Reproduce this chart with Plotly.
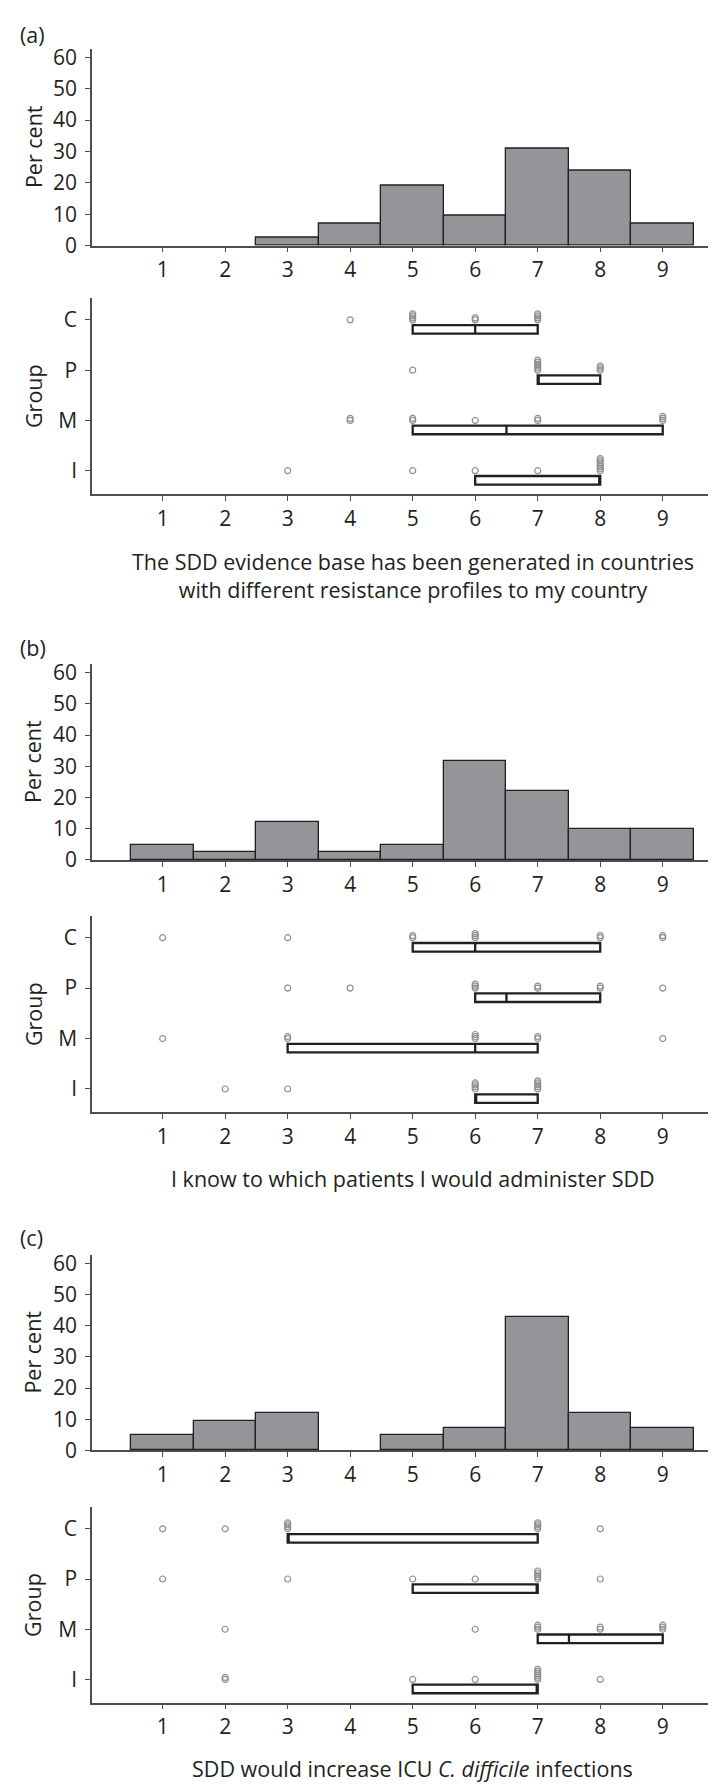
import plotly.graph_objects as go

SCORES = [1, 2, 3, 4, 5, 6, 7, 8, 9]
GROUPS = ["C", "P", "M", "I"]
PCT_TICKS = [0, 10, 20, 30, 40, 50, 60]

# (a) per cent of responses per score
A_PCT = [0, 0, 2.4, 7.1, 19.0, 9.5, 31.0, 23.8, 7.1]
# responses per score for each group (C, P, M, I)
A_DOTS = [
    [0, 0, 0, 1, 4, 2, 4, 0, 0],
    [0, 0, 0, 0, 1, 0, 6, 3, 0],
    [0, 0, 0, 2, 2, 1, 2, 0, 3],
    [0, 0, 1, 0, 1, 1, 1, 7, 0],
]
A_Q1 = [5, 7, 5, 6]
A_MED = [6, 7, 6.5, 8]
A_Q3 = [7, 8, 9, 8]

# (b)
B_PCT = [4.9, 2.4, 12.2, 2.4, 4.9, 31.7, 22.0, 9.8, 9.8]
B_DOTS = [
    [1, 0, 1, 0, 2, 3, 0, 2, 2],
    [0, 0, 1, 1, 0, 3, 2, 2, 1],
    [1, 0, 2, 0, 0, 3, 2, 0, 1],
    [0, 1, 1, 0, 0, 4, 5, 0, 0],
]
B_Q1 = [5, 6, 3, 6]
B_MED = [6, 6.5, 6, 6]
B_Q3 = [8, 8, 7, 7]

# (c)
C_PCT = [4.8, 9.5, 11.9, 0, 4.8, 7.1, 42.9, 11.9, 7.1]
C_DOTS = [
    [1, 1, 4, 0, 0, 0, 4, 1, 0],
    [1, 0, 1, 0, 1, 1, 5, 1, 0],
    [0, 1, 0, 0, 0, 1, 3, 2, 3],
    [0, 2, 0, 0, 1, 1, 6, 1, 0],
]
C_Q1 = [3, 5, 7, 5]
C_MED = [3, 7, 7.5, 7]
C_Q3 = [7, 7, 9, 7]

CAPTIONS = [
    "The SDD evidence base has been generated in countries<br>"
    "with different resistance profiles to my country",
    "I know to which patients I would administer SDD",
    "SDD would increase ICU <i>C. difficile</i> infections",
]

W, H = 716, 1785
LEFT = 84
INK = "#231f20"
AXIS = "#4d4d4d"
BAR_FILL = "#939598"
DOT = "#8c8e90"
FONT = "Open Sans"
FS_TICK = 21
FS_TEXT = 21.5

GROUP_POS = [3, 2, 1, 0]
BOX_SHIFT = 0.19   # boxes sit just below the group line
STACK_STEP = 0.04  # repeated answers stack upwards

# pixel layout (top, bottom) of each panel
LAYOUT_PX = [
    dict(tag_y=21, hist=(35, 234), box=(287.3, 485), cap=567.5),
    dict(tag_y=640, hist=(657, 855), box=(911.7, 1110), cap=1176.7),
    dict(tag_y=1236.7, hist=(1254.3, 1451.7), box=(1509.3, 1706.7), cap=1773.3),
]
DATA = [
    ("(a)", A_PCT, A_DOTS, A_Q1, A_MED, A_Q3),
    ("(b)", B_PCT, B_DOTS, B_Q1, B_MED, B_Q3),
    ("(c)", C_PCT, C_DOTS, C_Q1, C_MED, C_Q3),
]


def py(px):
    return 1 - px / H


def px_x(px):
    return (px - LEFT) / (W - LEFT)


def _xaxis(anchor):
    return dict(
        domain=[0, 1], range=[-0.13, 9.98], anchor=anchor,
        tickvals=SCORES, ticks="outside", ticklen=5, tickwidth=1.2,
        tickcolor=AXIS, showline=True, linecolor=AXIS, linewidth=1.5,
        showgrid=False, zeroline=False, fixedrange=True,
        tickfont=dict(family=FONT, size=FS_TICK, color=INK),
    )


def _yaxis(anchor, top, bottom, **kw):
    return dict(
        domain=[py(bottom), py(top)], anchor=anchor,
        ticks="outside", ticklen=5, tickwidth=1.2, tickcolor=AXIS,
        showline=True, linecolor=AXIS, linewidth=1.5,
        showgrid=False, zeroline=False, fixedrange=True, ticklabelstandoff=4,
        tickfont=dict(family=FONT, size=FS_TICK, color=INK), **kw,
    )


fig = go.Figure()
annotations = []
layout_axes = {}

for i, ((tag, pct, dots, q1, med, q3), geo) in enumerate(zip(DATA, LAYOUT_PX)):
    hx, hy = f"x{2 * i + 1}", f"y{2 * i + 1}"
    bx, by = f"x{2 * i + 2}", f"y{2 * i + 2}"

    fig.add_trace(go.Bar(
        x=SCORES, y=[v if v > 0 else None for v in pct], width=1,
        marker=dict(color=BAR_FILL, line=dict(color=INK, width=1.3)),
        xaxis=hx, yaxis=hy, showlegend=False,
    ))

    xs, ys = [], []
    for pos, row in zip(GROUP_POS, dots):
        for score, n in zip(SCORES, row):
            for k in range(n):
                xs.append(score)
                ys.append(pos + k * STACK_STEP)
    fig.add_trace(go.Scatter(
        x=xs, y=ys, mode="markers",
        marker=dict(symbol="circle-open", size=6, color=DOT, line=dict(width=1.2)),
        xaxis=bx, yaxis=by, showlegend=False,
    ))

    fig.add_trace(go.Box(
        y=[p - BOX_SHIFT for p in GROUP_POS], q1=q1, median=med, q3=q3,
        lowerfence=q1, upperfence=q3, orientation="h", width=0.17,
        whiskerwidth=0, boxpoints=False, fillcolor="white",
        line=dict(color=INK, width=2.3),
        xaxis=bx, yaxis=by, showlegend=False,
    ))

    n_h, n_b = 2 * i + 1, 2 * i + 2
    layout_axes[f"xaxis{n_h}"] = _xaxis(hy)
    layout_axes[f"xaxis{n_b}"] = _xaxis(by)
    layout_axes[f"yaxis{n_h}"] = _yaxis(hx, *geo["hist"], range=[0, 62.8], tickvals=PCT_TICKS)
    layout_axes[f"yaxis{n_b}"] = _yaxis(bx, *geo["box"], range=[-0.46, 3.43],
                                        tickvals=GROUP_POS, ticktext=GROUPS)

    annotations.append(dict(
        text=tag, xref="paper", yref="paper", x=px_x(10), y=py(geo["tag_y"]),
        xanchor="left", yanchor="middle", showarrow=False,
        font=dict(family=FONT, size=FS_TEXT, color=INK),
    ))
    for title, (top, bottom) in (("Per cent", geo["hist"]), ("Group", geo["box"])):
        annotations.append(dict(
            text=title, xref="paper", yref="paper", x=px_x(25), y=py((top + bottom) / 2),
            xanchor="center", yanchor="middle", textangle=-90, showarrow=False,
            font=dict(family=FONT, size=FS_TEXT, color=INK),
        ))
    annotations.append(dict(
        text=CAPTIONS[i], xref=bx, yref="paper", x=5, y=py(geo["cap"]),
        xanchor="center", yanchor="middle", showarrow=False,
        font=dict(family=FONT, size=FS_TEXT, color=INK),
    ))

fig.update_layout(
    width=W, height=H,
    margin=dict(l=LEFT, r=0, t=0, b=0),
    paper_bgcolor="white", plot_bgcolor="white",
    boxmode="overlay", bargap=0,
    annotations=annotations,
    **layout_axes,
)

fig.write_html("out.html")
